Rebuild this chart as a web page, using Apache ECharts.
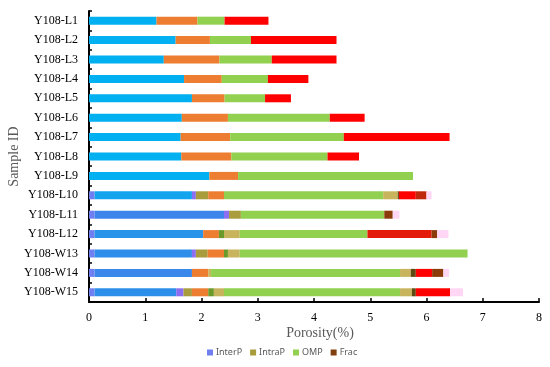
<!DOCTYPE html>
<html><head><meta charset="utf-8">
<script src="https://cdn.jsdelivr.net/npm/echarts@6/dist/echarts.min.js"></script>
<style>html,body{margin:0;padding:0;background:#fff}#c{width:550px;height:367px}</style>
</head><body><div id="c"></div>
<script>
const categories = ['Y108-L1','Y108-L2','Y108-L3','Y108-L4','Y108-L5','Y108-L6','Y108-L7','Y108-L8','Y108-L9','Y108-L10','Y108-L11','Y108-L12','Y108-W13','Y108-W14','Y108-W15'];
const xTicks = [0,1,2,3,4,5,6,7,8];
// segment values (porosity %) per sample, in stack order
const lead      = [0,0,0,0,0,0,0,0,0,0.10,0.10,0.10,0.10,0.10,0.10];
const body      = [1.20,1.54,1.33,1.69,1.83,1.65,1.63,1.64,2.14,1.73,2.30,1.93,1.73,1.73,1.45];
const purple    = [0,0,0,0,0,0,0,0,0,0.07,0.09,0,0.07,0,0.13];
const olive     = [0,0,0,0,0,0,0,0,0,0.22,0.21,0,0.21,0,0.15];
const orange    = [0.73,0.61,0.99,0.67,0.58,0.82,0.88,0.89,0.51,0.28,0,0.28,0.29,0.29,0.29];
const greenBit  = [0,0,0,0,0,0,0,0,0,0,0,0.09,0.07,0,0.10];
const khaki1    = [0,0,0,0,0,0,0,0,0,0,0,0.28,0.21,0.05,0.18];
const omp       = [0.48,0.73,0.93,0.82,0.72,1.81,2.02,1.71,3.11,2.83,2.55,2.27,4.05,3.36,3.13];
const khaki2    = [0,0,0,0,0,0,0,0,0,0.26,0,0,0,0.19,0.21];
const darkOlive = [0,0,0,0,0,0,0,0,0,0.02,0,0,0,0.09,0.07];
const red       = [0.78,1.52,1.15,0.72,0.46,0.62,1.88,0.56,0,0.30,0,1.14,0,0.29,0.61];
const frac      = [0,0,0,0,0,0,0,0,0,0.19,0.15,0.10,0,0.20,0];
const pink      = [0,0,0,0,0,0,0,0,0,0.09,0.12,0.20,0,0.10,0.23];

// styles
const bodyColors = ['#00b0f0','#00b0f0','#00b0f0','#00b0f0','#00b0f0','#00b0f0','#00b0f0','#00b0f0','#00b0f0','#14a4ee','#3d85ea','#2a94ea','#2f8eea','#3a88ea','#2c90ea'];
const redColors = categories.map((c,i)=> i===11 ? '#e41a0a' : '#ff0000');
const fracColors = categories.map((c,i)=> i===9 ? '#c0280c' : '#8b3a0a');

const serif = '"Liberation Serif","Times New Roman",serif';
function seg(name, data, color, colors){
  return {
    name, type:'bar', stack:'a', barWidth:8, silent:true,
    itemStyle:{color},
    data: data.map((v,i)=> colors ? {value:v, itemStyle:{color:colors[i]}} : v)
  };
}
const chart = echarts.init(document.getElementById('c'));
chart.setOption({
  animation:false,
  grid:{left:89, right:11, top:11, bottom:65, containLabel:false, outerBoundsMode:'none'},
  legend:{
    data:['InterP','IntraP','OMP','Frac'],
    bottom:5, left:202, icon:'rect', itemWidth:6, itemHeight:6, itemGap:8,
    textStyle:{fontSize:9, color:'#595959', fontFamily:'"Noto Sans",sans-serif', padding:[0,0,0,-2]}
  },
  xAxis:{
    type:'value', min:0, max:8, interval:1,
    name:'Porosity(%)', nameLocation:'middle', nameGap:24, nameMoveOverlap:false,
    nameTextStyle:{fontFamily:serif, fontSize:14, color:'#595959', padding:[0,0,0,12]},
    axisLine:{show:true, lineStyle:{color:'#000', width:2}},
    axisTick:{show:true, inside:true, length:4, lineStyle:{color:'#000', width:1.5}},
    axisLabel:{fontFamily:serif, fontSize:12, color:'#000', margin:10},
    splitLine:{show:false}
  },
  yAxis:{
    type:'category', data:categories, inverse:true,
    name:'Sample ID', nameLocation:'middle', nameGap:68, nameMoveOverlap:false,
    nameTextStyle:{fontFamily:serif, fontSize:14, color:'#595959'},
    axisLine:{show:true, lineStyle:{color:'#000', width:2}},
    axisTick:{show:true, inside:true, length:3, lineStyle:{color:'#000', width:1.5}},
    axisLabel:{fontFamily:serif, fontSize:12, color:'#000', margin:11}
  },
  series:[
    seg('InterP', lead, '#6f7ff0'),
    seg('_body', body, '#00b0f0', bodyColors),
    seg('_purple', purple, '#8c6ff0'),
    seg('IntraP', olive, '#a89c3c'),
    seg('_orange', orange, '#ed7d31'),
    seg('_greenBit', greenBit, '#6a9a2a'),
    seg('_khaki1', khaki1, '#c8b45c'),
    seg('OMP', omp, '#92d050'),
    seg('_khaki2', khaki2, '#c8b45c'),
    seg('_darkOlive', darkOlive, '#5c4a10'),
    seg('_red', red, '#ff0000', redColors),
    seg('Frac', frac, '#7f3f0f', fracColors),
    seg('_pink', pink, '#ffd6f4')
  ]
});
</script></body></html>
